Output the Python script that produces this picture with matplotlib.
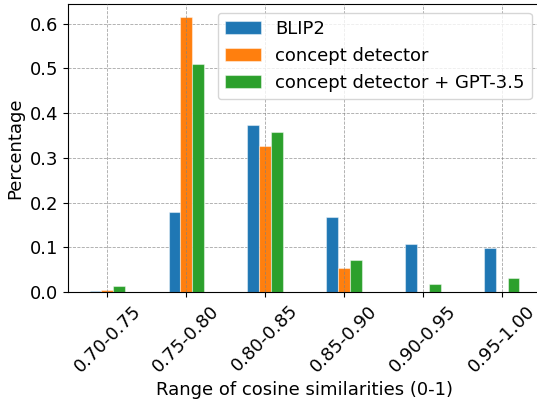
import matplotlib
matplotlib.use("Agg")
import matplotlib.pyplot as plt
import numpy as np

# ranges of cosine similarity
categories = ["0.70-0.75", "0.75-0.80", "0.80-0.85", "0.85-0.90", "0.90-0.95", "0.95-1.00"]
blip2 = [0.002, 0.178, 0.374, 0.168, 0.107, 0.099]
concept = [0.005, 0.614, 0.327, 0.054, 0.0, 0.0]
concept_gpt = [0.014, 0.509, 0.358, 0.071, 0.017, 0.031]
series_names = ["BLIP2", "concept detector", "concept detector + GPT-3.5"]

plt.rcParams['font.size'] = 13

fig = plt.figure(figsize=(5.37, 4.0), dpi=100)
ax = fig.add_axes([0.1266, 0.27, 0.881, 0.721])

x = np.arange(len(categories))
w = 0.15
edge = (1, 1, 1, 0.45)
ax.bar(x - w, blip2, w, label=series_names[0], color="#1f77b4", edgecolor=edge, linewidth=0.8)
ax.bar(x, concept, w, label=series_names[1], color="#ff7f0e", edgecolor=edge, linewidth=0.8)
ax.bar(x + w, concept_gpt, w, label=series_names[2], color="#2ca02c", edgecolor=edge, linewidth=0.8)

ax.set_xlim(-0.5, len(categories) - 0.5)
ax.set_xticks(x)
ax.set_xticklabels(categories, rotation=45)
ax.set_xlabel("Range of cosine similarities (0-1)")
ax.set_ylabel("Percentage")

ax.set_axisbelow(True)
ax.grid(True, linestyle="--", color="gray", linewidth=0.6, alpha=0.7)
ax.xaxis.set_zorder(3)

ax.legend(loc="upper right", fontsize=13)

fig.savefig("out.png", dpi=100)
